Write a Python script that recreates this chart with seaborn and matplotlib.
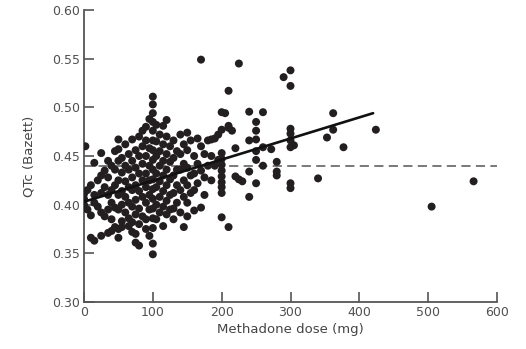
import numpy as np
import pandas as pd
import matplotlib
matplotlib.use("Agg")
import matplotlib.pyplot as plt
import seaborn as sns

# ---- data: methadone dose (mg) columns and QTc values ----
dose_columns = [0, 2, 5, 10, 15, 20, 25, 30, 35, 40, 45, 50, 55, 60, 65, 70, 75, 80, 85, 90,
                95, 100, 105, 110, 115, 120, 125, 130, 135, 140, 145, 150, 155, 160, 165, 170,
                175, 180, 185, 190, 195, 200, 205, 210, 215, 220, 225, 230, 240, 250, 260, 272,
                280, 290, 300, 305, 340, 353, 362, 377, 424, 505, 566]
qtc_columns = [
    [0.411, 0.406, 0.400],
    [0.460],
    [0.395, 0.415],
    [0.389, 0.366, 0.420],
    [0.443, 0.402, 0.363, 0.410],
    [0.398, 0.425],
    [0.453, 0.430, 0.392, 0.368, 0.412],
    [0.435, 0.418, 0.388],
    [0.445, 0.410, 0.395, 0.371, 0.428],
    [0.440, 0.415, 0.402, 0.385, 0.373],
    [0.455, 0.436, 0.420, 0.397, 0.377],
    [0.467, 0.457, 0.445, 0.425, 0.410, 0.395, 0.366, 0.375],
    [0.448, 0.433, 0.414, 0.400, 0.383, 0.377],
    [0.462, 0.440, 0.424, 0.408, 0.392],
    [0.452, 0.436, 0.418, 0.402, 0.386, 0.378],
    [0.467, 0.445, 0.428, 0.415, 0.398, 0.382, 0.372],
    [0.456, 0.438, 0.420, 0.405, 0.390, 0.370, 0.361],
    [0.470, 0.450, 0.432, 0.414, 0.396, 0.380, 0.358],
    [0.476, 0.460, 0.442, 0.425, 0.408, 0.388],
    [0.480, 0.466, 0.450, 0.432, 0.418, 0.402, 0.385, 0.375],
    [0.488, 0.458, 0.440, 0.425, 0.410, 0.395, 0.368],
    [0.511, 0.503, 0.494, 0.485, 0.476, 0.466, 0.456, 0.446, 0.436, 0.426,
     0.416, 0.406, 0.396, 0.386, 0.376, 0.349, 0.360],
    [0.482, 0.465, 0.450, 0.432, 0.418, 0.400, 0.385],
    [0.472, 0.455, 0.440, 0.424, 0.408, 0.392],
    [0.481, 0.462, 0.445, 0.430, 0.414, 0.398, 0.378],
    [0.487, 0.470, 0.452, 0.436, 0.420, 0.404, 0.390],
    [0.460, 0.444, 0.426, 0.410, 0.395],
    [0.466, 0.448, 0.430, 0.412, 0.396, 0.385],
    [0.455, 0.436, 0.420, 0.402],
    [0.472, 0.452, 0.436, 0.415, 0.392],
    [0.462, 0.442, 0.425, 0.408, 0.377],
    [0.474, 0.456, 0.438, 0.420, 0.402, 0.388],
    [0.466, 0.430, 0.412],
    [0.450, 0.432, 0.415, 0.394],
    [0.468, 0.442, 0.422],
    [0.549, 0.460, 0.435, 0.397],
    [0.452, 0.428, 0.410],
    [0.466, 0.440],
    [0.467, 0.450, 0.425],
    [0.468, 0.440],
    [0.472, 0.446],
    [0.495, 0.477, 0.453, 0.447, 0.441, 0.435, 0.429, 0.423, 0.418, 0.412, 0.387],
    [0.494],
    [0.481, 0.517, 0.479, 0.377],
    [0.476],
    [0.458, 0.429],
    [0.545, 0.426],
    [0.424],
    [0.4955, 0.466, 0.434, 0.408],
    [0.485, 0.476, 0.467, 0.455, 0.446, 0.422],
    [0.495, 0.459, 0.440],
    [0.457],
    [0.444, 0.434, 0.430],
    [0.531],
    [0.538, 0.522, 0.478, 0.473, 0.466, 0.459, 0.422, 0.417],
    [0.461],
    [0.427],
    [0.469],
    [0.494, 0.477],
    [0.459],
    [0.477],
    [0.398],
    [0.424],
]

# regression line end points and reference level
fit_dose = [0, 420]
fit_qtc = [0.403, 0.494]
reference_qtc = 0.44

x_ticks = [0, 100, 200, 300, 400, 500, 600]
y_ticks = [0.30, 0.35, 0.40, 0.45, 0.50, 0.55, 0.60]

rows = []
for d, ys in zip(dose_columns, qtc_columns):
    for y in ys:
        rows.append((d, y))
df = pd.DataFrame(rows, columns=["dose", "qtc"])

sns.set_style("ticks")
plt.rcParams["font.family"] = ["DejaVu Sans"]

fig = plt.figure(figsize=(5.26, 3.49), dpi=100)
ax = fig.add_axes([84 / 526, 1 - 302 / 349, (497 - 84) / 526, (302 - 10) / 349])

grey = "#555555"
sns.scatterplot(data=df, x="dose", y="qtc", ax=ax, s=33, color="#231f20",
                edgecolor="none", linewidth=0, zorder=3, legend=False)
sns.lineplot(x=fit_dose, y=fit_qtc, ax=ax, color="#111111", linewidth=1.9, zorder=4)
ax.axhline(reference_qtc, color=grey, linewidth=1.1, linestyle=(0, (6, 3.5)), zorder=2)

ax.set_xlim(0, 600)
ax.set_ylim(0.30, 0.60)
ax.set_xticks(x_ticks)
ax.set_yticks(y_ticks)
ax.set_xticklabels([str(t) for t in x_ticks])
ax.set_yticklabels([f"{t:.2f}" for t in y_ticks])
ax.tick_params(direction="in", length=7, width=1.2, colors=grey, labelsize=9,
               labelcolor="#505050", pad=3)
for s in ["top", "right"]:
    ax.spines[s].set_visible(False)
for s in ["left", "bottom"]:
    ax.spines[s].set_color(grey)
    ax.spines[s].set_linewidth(1.3)

ax.set_xlabel("Methadone dose (mg)", fontsize=9.5, color="#444444", labelpad=3)
ax.set_ylabel("QTc (Bazett)", fontsize=9.5, color="#444444", labelpad=12)

fig.savefig("out.png", dpi=100)
